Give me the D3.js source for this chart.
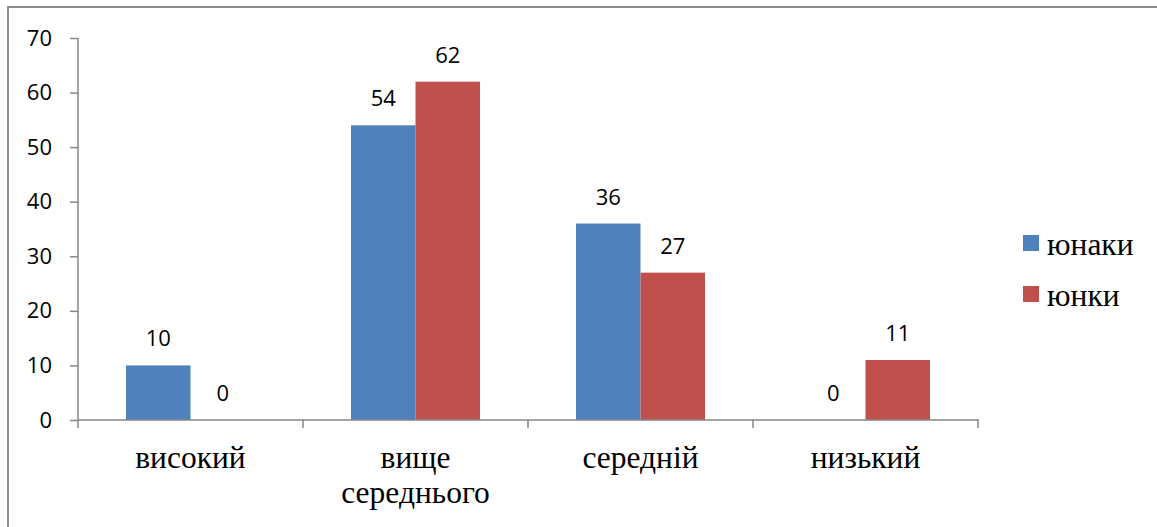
<!DOCTYPE html>
<html>
<head>
<meta charset="utf-8">
<script src="https://cdn.jsdelivr.net/npm/d3@7"></script>
<style>
  html, body { margin: 0; padding: 0; background: #fff; }
  svg { display: block; }
</style>
</head>
<body>
<svg id="chart" width="1157" height="527"></svg>
<script>
// Rating levels and the share of each group (percent)
const categories = [["високий"], ["вище", "середнього"], ["середній"], ["низький"]];
const seriesNames = ["юнаки", "юнки"];
const youngMen = [10, 54, 36, 0];
const youngWomen = [0, 62, 27, 11];
const yTicks = [0, 10, 20, 30, 40, 50, 60, 70];
const colors = ["#4F81BD", "#C0504D"];

const svg = d3.select("#chart");
const W = 1157, H = 527;

// Outer frame of the chart area (extends past the page edges)
svg.append("rect")
  .attr("x", 8).attr("y", 7)
  .attr("width", W + 20).attr("height", H + 20)
  .attr("fill", "none").attr("stroke", "#8c8c8c").attr("stroke-width", 2);

const plot = { left: 78, right: 978, top: 38, bottom: 420 };

const x = d3.scaleBand()
  .domain(d3.range(categories.length))
  .range([plot.left, plot.right])
  .paddingInner(0).paddingOuter(0);

const inner = 48;
const x1 = d3.scaleBand()
  .domain([0, 1])
  .range([inner, x.bandwidth() - inner]);

const y = d3.scaleLinear().domain([0, 70]).range([plot.bottom, plot.top]);

const axisColor = "#868686";
const serif = "'Liberation Serif', 'Times New Roman', serif";
const sans = "'Open Sans', 'Noto Sans', sans-serif";

// Y axis
const yAxis = svg.append("g")
  .attr("transform", `translate(${plot.left},0)`)
  .call(d3.axisLeft(y).tickValues(yTicks).tickSize(8).tickPadding(18).tickFormat(d3.format("d")));
yAxis.select(".domain").attr("stroke", axisColor).attr("stroke-width", 1.5)
  .attr("d", `M0,${plot.top}V${plot.bottom}`);
yAxis.selectAll(".tick line").attr("stroke", axisColor).attr("stroke-width", 1.5);
yAxis.selectAll(".tick text")
  .attr("fill", "#000")
  .style("font-family", sans)
  .style("font-size", "22px");

// Bars
const series = [youngMen, youngWomen];
series.forEach((vals, s) => {
  svg.append("g").selectAll("rect")
    .data(vals)
    .join("rect")
    .attr("x", (d, i) => x(i) + x1(s))
    .attr("y", d => y(d))
    .attr("width", x1.bandwidth())
    .attr("height", d => y(0) - y(d))
    .attr("fill", colors[s]);

  // Value labels
  svg.append("g").selectAll("text")
    .data(vals)
    .join("text")
    .attr("x", (d, i) => x(i) + x1(s) + x1.bandwidth() / 2)
    .attr("y", d => y(d) - 19)
    .attr("text-anchor", "middle")
    .style("font-family", sans)
    .style("font-size", "22px")
    .attr("fill", "#000")
    .text(d => d);
});

// X axis
const xAxis = svg.append("g")
  .attr("transform", `translate(0,${plot.bottom})`);
xAxis.append("line")
  .attr("x1", plot.left).attr("x2", plot.right + 1)
  .attr("stroke", axisColor).attr("stroke-width", 1.5);
const edges = d3.range(categories.length + 1).map(i => plot.left + i * x.bandwidth());
xAxis.selectAll("line.tick")
  .data(edges)
  .join("line")
  .attr("class", "tick")
  .attr("x1", d => d).attr("x2", d => d)
  .attr("y1", 0).attr("y2", 8)
  .attr("stroke", axisColor).attr("stroke-width", 1.5);

// Category labels
const catLabels = svg.append("g").selectAll("text")
  .data(categories)
  .join("text")
  .attr("x", (d, i) => x(i) + x.bandwidth() / 2)
  .attr("y", 468)
  .attr("text-anchor", "middle")
  .style("font-family", serif)
  .style("font-size", "31.5px")
  .attr("fill", "#000");
catLabels.selectAll("tspan")
  .data(d => d)
  .join("tspan")
  .attr("x", function () { return d3.select(this.parentNode).attr("x"); })
  .attr("dy", (d, j) => j === 0 ? 0 : 35)
  .text(d => d);

// Legend
const legend = svg.append("g");
seriesNames.forEach((name, s) => {
  const cy = 243 + s * 51;
  legend.append("rect")
    .attr("x", 1023).attr("y", cy - 8)
    .attr("width", 16).attr("height", 16)
    .attr("fill", colors[s]);
  legend.append("text")
    .attr("x", 1047).attr("y", cy + 12)
    .style("font-family", serif)
    .style("font-size", "31.5px")
    .attr("fill", "#000")
    .text(name);
});
</script>
</body>
</html>
